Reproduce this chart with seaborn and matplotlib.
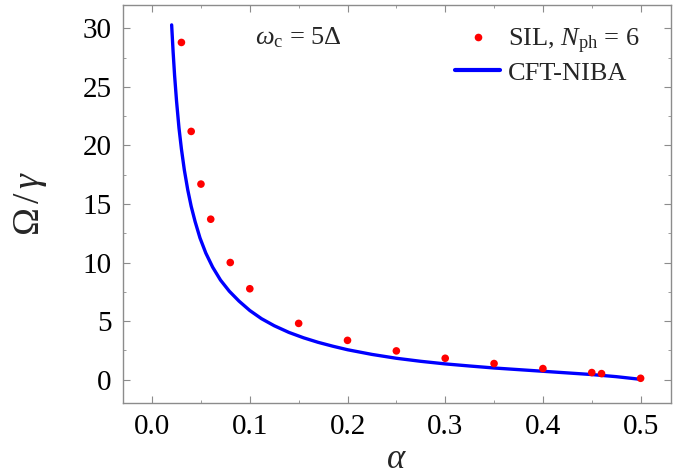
import numpy as np
import pandas as pd
import matplotlib
matplotlib.use("Agg")
import matplotlib.pyplot as plt
from matplotlib.ticker import MultipleLocator
from matplotlib.lines import Line2D
import seaborn as sns

# SIL data points (N_ph = 6)
alpha_sil = [0.03, 0.04, 0.05, 0.06, 0.08, 0.10, 0.15, 0.20, 0.25, 0.30, 0.35, 0.40, 0.45, 0.46, 0.50]
omega_sil = [28.8, 21.2, 16.7, 13.7, 10.0, 7.76, 4.80, 3.35, 2.45, 1.82, 1.37, 0.94, 0.60, 0.51, 0.11]

# CFT-NIBA curve
alpha_curve = [0.0200, 0.0215, 0.0230, 0.0250, 0.0275, 0.0300, 0.0330, 0.0365, 0.0400,
               0.0440, 0.0490, 0.0550, 0.0620, 0.0700, 0.0790, 0.0890, 0.1000, 0.1120,
               0.1250, 0.1400, 0.1550, 0.1700, 0.1850, 0.2000, 0.2250, 0.2500, 0.2750,
               0.3000, 0.3250, 0.3500, 0.3750, 0.4000, 0.4250, 0.4500, 0.4750, 0.5000]
omega_curve = [30.3, 28.0, 26.0, 23.8, 21.5, 19.7, 17.9, 16.2, 14.8,
               13.5, 12.1, 10.8, 9.60, 8.50, 7.55, 6.70, 5.90, 5.20,
               4.60, 4.03, 3.57, 3.18, 2.85, 2.55, 2.15, 1.82, 1.56,
               1.34, 1.16, 0.99, 0.85, 0.71, 0.57, 0.43, 0.25, 0.02]

x_ticks = [0.0, 0.1, 0.2, 0.3, 0.4, 0.5]
y_ticks = [0, 5, 10, 15, 20, 25, 30]

sns.set_theme(style="ticks")
plt.rcParams['font.family'] = ['Liberation Serif', 'DejaVu Serif']
plt.rcParams['mathtext.fontset'] = 'custom'
plt.rcParams['mathtext.rm'] = 'Liberation Serif'
plt.rcParams['mathtext.it'] = 'Liberation Serif:italic'
plt.rcParams['mathtext.bf'] = 'Liberation Serif:bold'

fig = plt.figure(figsize=(6.86, 4.75), dpi=100)
ax = fig.add_axes([0.179, 0.1516, 0.799, 0.8379])

curve_df = pd.DataFrame({"alpha": alpha_curve, "omega": omega_curve})
sil_df = pd.DataFrame({"alpha": alpha_sil, "omega": omega_sil})

sns.lineplot(data=curve_df, x="alpha", y="omega", color="#0000ff", lw=2.4,
             ax=ax, sort=False, estimator=None, legend=False)
sns.scatterplot(data=sil_df, x="alpha", y="omega", color="#ff0000", s=30,
                edgecolor="none", ax=ax, zorder=3, legend=False)

ax.set_xlim(-0.03, 0.531)
ax.set_ylim(-2.0, 32.0)
ax.set_xticks(x_ticks)
ax.set_xticklabels([f"{t:.1f}" for t in x_ticks])
ax.set_yticks(y_ticks)
ax.xaxis.set_minor_locator(MultipleLocator(0.05))
ax.yaxis.set_minor_locator(MultipleLocator(2.5))

frame_col = "#8c8c8c"
for sp in ax.spines.values():
    sp.set_color(frame_col)
    sp.set_linewidth(1.0)
    sp.set_visible(True)
ax.tick_params(which="both", direction="in", top=True, right=True,
               color=frame_col, labelcolor="black")
ax.tick_params(which="major", length=5, width=0.8, labelsize=21, pad=8)
ax.tick_params(which="minor", length=2.5, width=0.6)

ax.set_xlabel(r"$\alpha$", fontsize=25, labelpad=2)
ax.set_ylabel(r"$\Omega\,/\,\gamma$", fontsize=27, labelpad=24)

ax.text(0.32, 0.917, r"$\omega_{\rm c}$ = 5$\Delta$", transform=ax.transAxes,
        fontsize=19, ha="center", va="center")

handles = [
    Line2D([], [], color="#ff0000", marker="o", ls="none", markersize=5.5, markeredgewidth=0),
    Line2D([], [], color="#0000ff", lw=3),
]
labels = [r"SIL, $N_{\rm ph}$ = 6", "CFT-NIBA"]
ax.legend(handles, labels, loc="upper right", frameon=False, fontsize=19,
          handlelength=1.7, handletextpad=0.3, borderaxespad=0.2,
          labelspacing=0.2, bbox_to_anchor=(0.972, 0.985))

fig.savefig("out.png", dpi=100)
